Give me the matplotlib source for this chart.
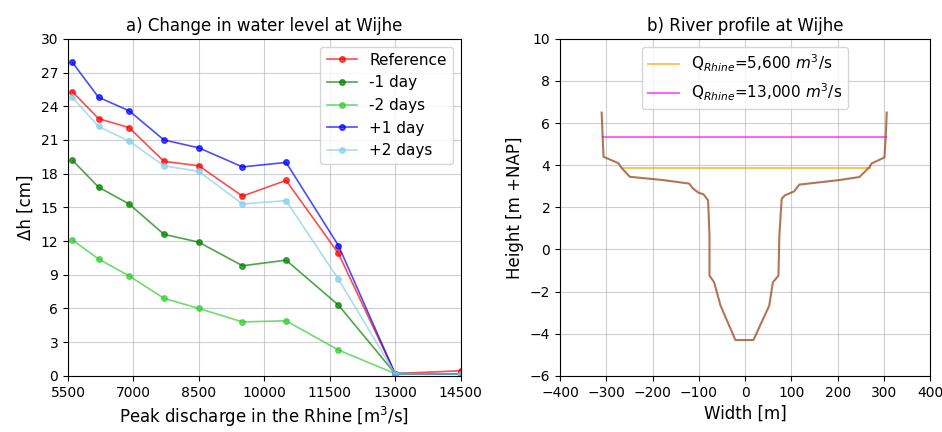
import matplotlib
matplotlib.use("Agg")
import matplotlib.pyplot as plt

# --- a) change in water level at Wijhe ---
discharge = [5600, 6200, 6900, 7700, 8500, 9500, 10500, 11700, 13000, 14500]
dh_reference = [25.3, 22.9, 22.1, 19.1, 18.7, 16.0, 17.4, 10.9, 0.2, 0.45]
dh_minus1 = [19.2, 16.8, 15.3, 12.6, 11.9, 9.8, 10.3, 6.3, 0.2, 0.15]
dh_minus2 = [12.1, 10.4, 8.9, 6.9, 6.0, 4.8, 4.9, 2.3, 0.2, 0.15]
dh_plus1 = [27.9, 24.8, 23.6, 21.0, 20.3, 18.6, 19.0, 11.6, 0.2, 0.15]
dh_plus2 = [24.8, 22.2, 20.9, 18.7, 18.2, 15.3, 15.6, 8.6, 0.2, 0.15]

# --- b) river profile at Wijhe ---
profile_x = [-310, -308, -306, -274, -266, -249, -179, -121, -113, -101, -90, -80,
             -77, -77, -67, -53, -21, 18, 52, 60, 72, 74, 79, 86, 106, 117,
             201, 247, 269, 273, 301, 304, 306]
profile_y = [6.5, 5.4, 4.4, 4.1, 3.85, 3.45, 3.3, 3.13, 2.9, 2.7, 2.62, 2.33,
             0.67, -1.24, -1.56, -2.67, -4.3, -4.3, -2.67, -1.56, -1.24, 0.67,
             2.41, 2.57, 2.76, 3.08, 3.29, 3.44, 3.92, 4.08, 4.37, 5.43, 6.5]
level_5600 = 3.88
level_5600_x = [-266, 269]
level_13000 = 5.36
level_13000_x = [-308, 305]

fig = plt.figure(figsize=(9.42, 4.32), dpi=100)
ax1 = fig.add_axes([0.0722, 0.13, 0.4167, 0.78])
ax2 = fig.add_axes([0.5945, 0.13, 0.393, 0.78])

series = [
    (dh_reference, "red", "Reference"),
    (dh_minus1, "green", "-1 day"),
    (dh_minus2, "limegreen", "-2 days"),
    (dh_plus1, "blue", "+1 day"),
    (dh_plus2, "skyblue", "+2 days"),
]
for vals, col, lab in series:
    ax1.plot(discharge, vals, "-o", color=col, label=lab, alpha=0.7,
             markersize=4, linewidth=1.2)

ax1.set_xlim(5500, 14500)
ax1.set_ylim(0, 30)
ax1.set_xticks(range(5500, 14501, 1500))
ax1.set_yticks(range(0, 31, 3))
ax1.grid(True, alpha=0.6)
ax1.set_title("a) Change in water level at Wijhe", fontsize=12)
ax1.set_xlabel("Peak discharge in the Rhine [m$^3$/s]", fontsize=12)
ax1.set_ylabel("Δh [cm]", fontsize=12)
ax1.legend(loc="upper right", fontsize=11)

ax2.plot(level_5600_x, [level_5600, level_5600], color="orange", alpha=0.8,
         linewidth=1.2, label=r"Q$_{Rhine}$=5,600 $m^3$/s")
ax2.plot(level_13000_x, [level_13000, level_13000], color="magenta", alpha=0.6,
         linewidth=1.5, label=r"Q$_{Rhine}$=13,000 $m^3$/s")
ax2.plot(profile_x, profile_y, color="sienna", alpha=0.8, linewidth=1.5)
ax2.set_xlim(-400, 400)
ax2.set_ylim(-6, 10)
ax2.set_xticks(range(-400, 401, 100))
ax2.set_yticks(range(-6, 11, 2))
ax2.grid(True, alpha=0.6)
ax2.set_title("b) River profile at Wijhe", fontsize=12)
ax2.set_xlabel("Width [m]", fontsize=12)
ax2.set_ylabel("Height [m +NAP]", fontsize=12)
ax2.legend(loc="upper center", fontsize=11)

fig.savefig("out.png", dpi=100)
